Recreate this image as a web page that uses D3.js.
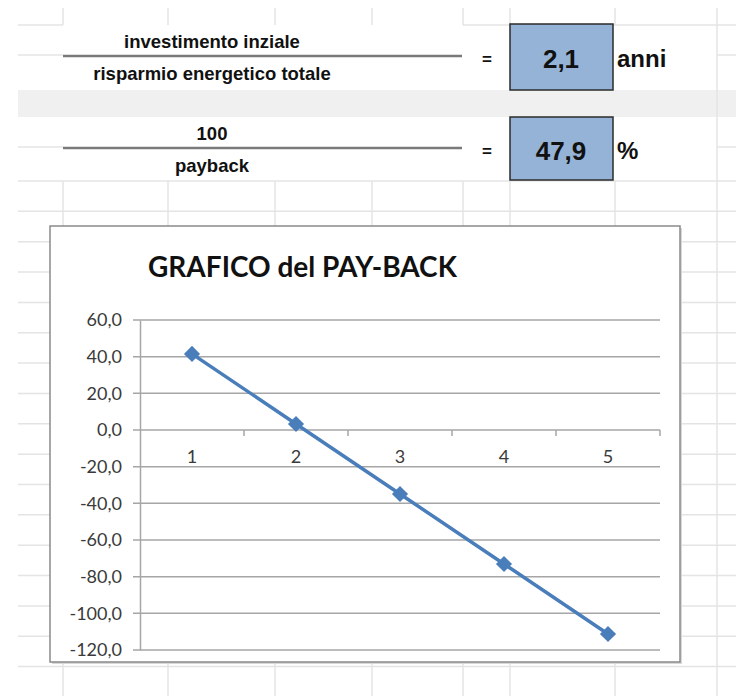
<!DOCTYPE html>
<html lang="it">
<head>
<meta charset="UTF-8">
<title>GRAFICO del PAY-BACK</title>
<script src="https://d3js.org/d3.v7.min.js"></script>
<style>
  body { margin: 0; background: #fff; }
  svg { display: block; }
  .cellgrid line { stroke: #e4e4e4; stroke-width: 1.5; }
  .frac text { font-family: "Liberation Sans", Arial, sans-serif; font-weight: bold; font-size: 18.5px; fill: #111; }
  .result { font-family: Lato, "Open Sans", sans-serif; font-weight: bold; fill: #111; }
  .axis text { font-family: Lato, "Open Sans", sans-serif; font-size: 18px; fill: #3a3a3a; }
  .grid line { stroke: #a6a6a6; stroke-width: 1.5; }
</style>
</head>
<body>
<svg id="chart" width="736" height="696"></svg>
<script>
// values shown in the sheet
var resultLabels = ["anni", "%"];
var resultValues = [2.1, 47.9];
var numerators = ["investimento inziale", "100"];
var denominators = ["risparmio energetico totale", "payback"];

// chart data
var years = [1, 2, 3, 4, 5];
var cashflow = [41.5, 3.3, -34.9, -73.1, -111.3];
var yTicks = [-120, -100, -80, -60, -40, -20, 0, 20, 40, 60];
var chartTitle = "GRAFICO del PAY-BACK";

var it = d3.formatLocale({decimal: ",", thousands: ".", grouping: [3], currency: ["", " €"], minus: "-"});
var fmt = it.format(".1f");

var svg = d3.select("#chart");

// --- spreadsheet background ---
var cols = [63, 168, 275, 372, 463, 510, 615, 717];
var rows = [];
for (var r = 181; r < 700; r += 30.35) rows.push(r);

svg.append("rect").attr("x", 18).attr("y", 90).attr("width", 718).attr("height", 27).attr("fill", "#f0f0f0");

var cg = svg.append("g").attr("class", "cellgrid");
rows.forEach(function(y) {
    cg.append("line").attr("x1", 18).attr("x2", 736).attr("y1", y).attr("y2", y);
});
cols.forEach(function(x) {
    cg.append("line").attr("x1", x).attr("x2", x).attr("y1", 8).attr("y2", 25);
    cg.append("line").attr("x1", x).attr("x2", x).attr("y1", 181).attr("y2", 696);
});
cg.append("line").attr("x1", 717).attr("x2", 717).attr("y1", 25).attr("y2", 181);
[[18, 63, 25], [463, 736, 25], [18, 63, 55], [717, 736, 55], [18, 63, 147], [717, 736, 147]].forEach(function(s) {
    cg.append("line").attr("x1", s[0]).attr("x2", s[1]).attr("y1", s[2]).attr("y2", s[2]);
});

// --- fractions ---
var rowY = [0, 92];
var frac = svg.append("g").attr("class", "frac");
rowY.forEach(function(dy, i) {
    var g = frac.append("g").attr("transform", "translate(0," + dy + ")");
    g.append("text").attr("x", 212).attr("y", 48).attr("text-anchor", "middle").text(numerators[i]);
    g.append("line").attr("x1", 63).attr("x2", 462).attr("y1", 56).attr("y2", 56)
        .attr("stroke", "#7a7a7a").attr("stroke-width", 2.5);
    g.append("text").attr("x", 212).attr("y", 80).attr("text-anchor", "middle").text(denominators[i]);
    g.append("text").attr("x", 487).attr("y", 65).attr("text-anchor", "middle").style("font-size", "17px").text("=");
    g.append("rect").attr("x", 510).attr("y", i ? 25 : 24).attr("width", 103).attr("height", i ? 63 : 66)
        .attr("fill", "#95b3d7").attr("stroke", "#2b2b2b").attr("stroke-width", 1.5);
    g.append("text").attr("class", "result").attr("x", 561).attr("y", 68).attr("text-anchor", "middle")
        .style("font-size", "26px").text(fmt(resultValues[i]));
    g.append("text").attr("class", "result").attr("x", 617).attr("y", 67)
        .style("font-size", "24px").text(resultLabels[i]);
});

// --- chart object ---
svg.append("rect").attr("x", 52).attr("y", 228).attr("width", 630).attr("height", 436).attr("fill", "#d8d8d8");
svg.append("rect").attr("x", 50).attr("y", 226).attr("width", 630).attr("height", 436)
    .attr("fill", "#fff").attr("stroke", "#8a8a8a").attr("stroke-width", 1.5);

svg.append("text").attr("x", 148).attr("y", 277)
    .style("font-family", "Lato, 'Open Sans', sans-serif").style("font-weight", "bold")
    .style("font-size", "28px").attr("fill", "#111").text(chartTitle);

var x = d3.scaleBand().domain(years).range([140, 660]);
var y = d3.scaleLinear().domain([-120, 60]).range([650, 320]);

// horizontal gridlines + y labels
svg.append("g").attr("class", "grid")
    .selectAll("line").data(yTicks).join("line")
    .attr("x1", 133).attr("x2", 660)
    .attr("y1", function(d) { return y(d); }).attr("y2", function(d) { return y(d); });

svg.append("g").attr("class", "axis")
    .attr("transform", "translate(140,0)")
    .call(d3.axisLeft(y).tickValues(yTicks).tickSize(0).tickPadding(18).tickFormat(fmt))
    .call(function(g) { g.select(".domain").attr("stroke", "#a6a6a6").attr("stroke-width", 1.5); });

// category axis on the zero line
svg.append("g").attr("class", "axis")
    .attr("transform", "translate(0," + y(0) + ")")
    .call(d3.axisBottom(x).tickSize(0).tickPadding(20))
    .call(function(g) { g.select(".domain").remove(); });

svg.append("g").selectAll("line").data(years.slice(1).concat(["end"])).join("line")
    .attr("x1", function(d) { return d === "end" ? 660 : x(d); })
    .attr("x2", function(d) { return d === "end" ? 660 : x(d); })
    .attr("y1", y(0)).attr("y2", y(0) + 6)
    .attr("stroke", "#a6a6a6").attr("stroke-width", 1.5);

// series
var pts = years.map(function(d, i) { return [x(d) + x.bandwidth() / 2, y(cashflow[i])]; });

svg.append("path")
    .attr("d", d3.line()(pts))
    .attr("fill", "none").attr("stroke", "#4a7ebb").attr("stroke-width", 3.5);

svg.append("g").selectAll("path").data(pts).join("path")
    .attr("d", d3.symbol(d3.symbolSquare, 130))
    .attr("transform", function(d) { return "translate(" + d[0] + "," + d[1] + ") rotate(45)"; })
    .attr("fill", "#4a7ebb");
</script>
</body>
</html>
